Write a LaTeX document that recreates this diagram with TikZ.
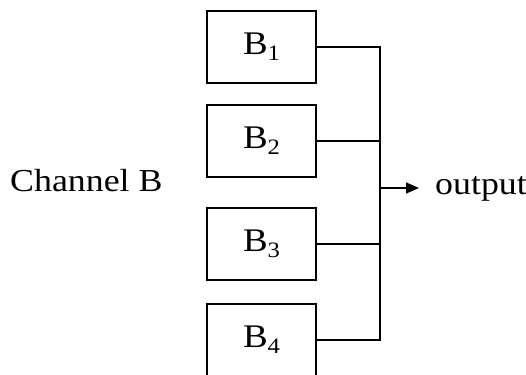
\documentclass[tikz,border=0pt]{standalone}
\usepackage{fontspec}
\setmainfont[FakeStretch=1.12]{Liberation Serif}
\usetikzlibrary{arrows.meta}
\newcommand{\blklabel}[1]{B\raisebox{-6pt}{\fontsize{22}{22}\selectfont #1}}
\begin{document}
\begin{tikzpicture}[x=1pt,y=1pt,
  blk/.style={draw, line width=1.4pt, minimum width=109pt, minimum height=72pt,
              inner sep=0pt, font=\fontsize{33}{36}\selectfont},
  wire/.style={line width=1.4pt},
  lbl/.style={inner sep=0pt, font=\fontsize{32}{36}\selectfont}]
\useasboundingbox (0,0) rectangle (526,374);
% the four parallel blocks (the last one runs past the lower edge)
\node[blk] (B1) at (261.5,327) {\blklabel{1}};
\node[blk] (B2) at (261.5,233) {\blklabel{2}};
\node[blk] (B3) at (261.5,130) {\blklabel{3}};
\node[blk] (B4) at (261.5,34) {\blklabel{4}};
% bus collecting the block outputs
\coordinate (top) at (380,327);
\coordinate (bot) at (380,34);
\coordinate (junc) at (380,186);
\draw[wire] (B1.east) -- (top) -- (bot) -- (B4.east);
\draw[wire] (B2.east) -- (B2.east -| top);
\draw[wire] (B3.east) -- (B3.east -| top);
% labels
\node[lbl, anchor=base west] (chan) at (10,182) {Channel B};
\node[lbl, anchor=base west] (out) at (435,179) {output};
\draw[wire, -{Triangle[length=13pt,width=11pt]}] (junc) -- ([xshift=-16pt]out.west |- junc);
\end{tikzpicture}
\end{document}
